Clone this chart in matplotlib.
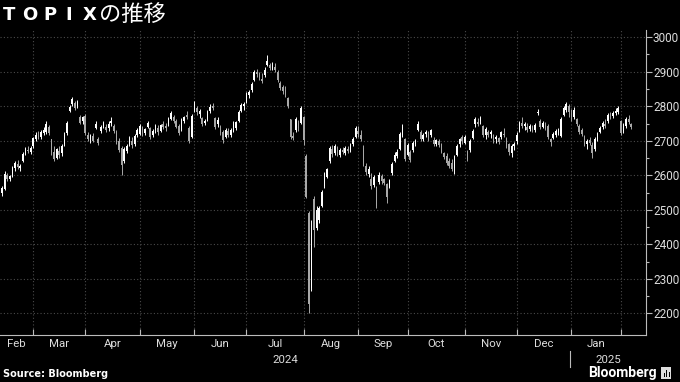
import matplotlib
matplotlib.use("Agg")
import matplotlib.pyplot as plt
import matplotlib.transforms as mtransforms
from matplotlib.patches import Rectangle
import pandas as pd
import numpy as np

# ---------------- data (TOPIX daily OHLC) ----------------
opens = [
    # Feb 2024
    2548, 2560, 2600, 2590, 2600, 2620, 2634, 2622, 2640, 2664, 2672, 2668,
    # Mar
    2684, 2706, 2716, 2712, 2722, 2724, 2740, 2704, 2666, 2650, 2670, 2664, 2690, 2722, 2786, 2806, 2810, 2802, 2770, 2756,
    # Apr
    2772, 2718, 2704, 2714, 2738, 2706, 2728, 2744, 2740, 2736, 2752, 2744, 2724, 2700, 2680, 2640, 2670, 2690, 2700, 2690, 2716,
    # May
    2720, 2736, 2722, 2740, 2736, 2718, 2730, 2738, 2728, 2748, 2742, 2748, 2764, 2770, 2758, 2742, 2732, 2758, 2774, 2738, 2712,
    # Jun
    2786, 2794, 2778, 2766, 2752, 2762, 2786, 2800, 2766, 2748, 2740, 2726, 2712, 2728, 2716, 2730, 2738, 2758, 2786, 2800,
    # Jul
    2812, 2832, 2846, 2876, 2898, 2890, 2880, 2890, 2920, 2920, 2908, 2914, 2898, 2866, 2856, 2848, 2824, 2762, 2714, 2730, 2752, 2752,
    # Aug
    2768, 2656, 2490, 2272, 2530, 2446, 2470, 2512, 2570, 2596, 2640, 2676, 2664, 2680, 2660, 2672, 2664, 2676, 2672, 2690, 2712,
    # Sep
    2728, 2718, 2678, 2628, 2604, 2590, 2572, 2564, 2580, 2598, 2588, 2574, 2566, 2606, 2642, 2656, 2676, 2716, 2704,
    # Oct
    2660, 2668, 2672, 2690, 2732, 2726, 2704, 2720, 2718, 2716, 2702, 2692, 2698, 2690, 2664, 2656, 2640, 2636, 2622, 2660, 2690, 2712,
    # Nov
    2694, 2670, 2672, 2708, 2750, 2754, 2756, 2742, 2716, 2726, 2720, 2716, 2706, 2708, 2712, 2720, 2706, 2690, 2664, 2684,
    # Dec
    2700, 2730, 2752, 2742, 2740, 2734, 2740, 2730, 2780, 2758, 2740, 2746, 2742, 2704, 2708, 2718, 2724, 2714, 2776, 2790, 2800,
    # Jan 2025
    2780, 2770, 2762, 2744, 2730, 2712, 2690, 2702, 2688, 2676, 2706, 2726, 2740, 2748, 2756, 2770, 2772, 2780, 2784,
    # Feb 2025
    2756, 2728, 2742, 2764, 2748,
]
highs = [
    2568, 2612, 2606, 2602, 2628, 2642, 2644, 2632, 2668, 2682, 2684, 2686,
    2712, 2724, 2728, 2730, 2740, 2756, 2746, 2706, 2684, 2680, 2684, 2690, 2724, 2758, 2804, 2828, 2814, 2818, 2774, 2772,
    2778, 2726, 2720, 2722, 2756, 2712, 2746, 2758, 2750, 2756, 2768, 2750, 2730, 2708, 2684, 2682, 2690, 2714, 2712, 2720, 2738,
    2748, 2742, 2738, 2758, 2740, 2734, 2748, 2746, 2750, 2758, 2752, 2768, 2786, 2776, 2762, 2748, 2766, 2772, 2786, 2742, 2778,
    2814, 2800, 2792, 2770, 2762, 2790, 2806, 2810, 2770, 2768, 2746, 2730, 2738, 2736, 2736, 2756, 2758, 2790, 2810, 2812,
    2840, 2846, 2870, 2904, 2908, 2900, 2896, 2914, 2948, 2926, 2928, 2924, 2904, 2872, 2862, 2858, 2828, 2764, 2724, 2770, 2760, 2800,
    2772, 2662, 2496, 2470, 2540, 2510, 2510, 2558, 2610, 2622, 2684, 2688, 2692, 2684, 2680, 2682, 2684, 2686, 2694, 2712, 2744,
    2742, 2732, 2688, 2636, 2626, 2606, 2600, 2568, 2608, 2604, 2592, 2578, 2590, 2638, 2666, 2676, 2726, 2748, 2708,
    2694, 2672, 2700, 2706, 2756, 2732, 2722, 2732, 2728, 2734, 2710, 2706, 2704, 2694, 2668, 2664, 2650, 2648, 2660, 2690, 2708, 2718,
    2716, 2674, 2706, 2734, 2768, 2766, 2772, 2746, 2740, 2732, 2730, 2720, 2716, 2712, 2728, 2736, 2710, 2694, 2690, 2696,
    2724, 2758, 2768, 2754, 2752, 2750, 2746, 2752, 2792, 2762, 2758, 2754, 2748, 2708, 2726, 2734, 2736, 2770, 2800, 2812, 2806,
    2792, 2798, 2766, 2748, 2736, 2716, 2704, 2712, 2696, 2712, 2726, 2742, 2756, 2762, 2780, 2784, 2786, 2794, 2800,
    2760, 2752, 2768, 2774, 2752,
]
lows = [
    2540, 2556, 2582, 2584, 2596, 2612, 2618, 2612, 2638, 2660, 2664, 2662,
    2680, 2700, 2704, 2706, 2718, 2720, 2716, 2660, 2640, 2646, 2650, 2656, 2686, 2718, 2782, 2802, 2788, 2796, 2748, 2750,
    2716, 2700, 2694, 2696, 2734, 2688, 2722, 2736, 2726, 2728, 2742, 2722, 2690, 2668, 2600, 2636, 2664, 2686, 2680, 2684, 2710,
    2716, 2714, 2716, 2736, 2706, 2712, 2722, 2718, 2724, 2734, 2728, 2744, 2760, 2752, 2736, 2716, 2728, 2752, 2764, 2694, 2708,
    2782, 2776, 2766, 2744, 2746, 2758, 2780, 2788, 2734, 2740, 2716, 2694, 2708, 2712, 2712, 2726, 2732, 2754, 2782, 2790,
    2808, 2824, 2842, 2872, 2886, 2876, 2868, 2886, 2916, 2906, 2904, 2898, 2870, 2848, 2836, 2826, 2794, 2704, 2702, 2726, 2728, 2748,
    2688, 2534, 2200, 2264, 2392, 2440, 2462, 2508, 2564, 2592, 2636, 2654, 2660, 2656, 2654, 2662, 2658, 2664, 2668, 2686, 2708,
    2712, 2698, 2628, 2600, 2594, 2560, 2566, 2506, 2574, 2576, 2572, 2520, 2562, 2602, 2638, 2650, 2672, 2710, 2640,
    2656, 2638, 2666, 2684, 2728, 2698, 2698, 2710, 2700, 2710, 2684, 2684, 2682, 2664, 2648, 2630, 2622, 2612, 2604, 2656, 2682, 2692,
    2690, 2642, 2668, 2704, 2740, 2742, 2748, 2712, 2704, 2710, 2708, 2694, 2694, 2690, 2706, 2712, 2678, 2660, 2652, 2672,
    2690, 2726, 2738, 2730, 2726, 2728, 2724, 2726, 2774, 2734, 2736, 2730, 2706, 2684, 2704, 2712, 2716, 2710, 2772, 2784, 2770,
    2758, 2764, 2744, 2720, 2714, 2684, 2676, 2688, 2650, 2670, 2698, 2722, 2734, 2738, 2752, 2762, 2766, 2774, 2778,
    2716, 2722, 2736, 2748, 2734,
]
closes = [
    2562, 2605, 2588, 2598, 2622, 2636, 2624, 2628, 2662, 2676, 2670, 2680,
    2708, 2718, 2710, 2724, 2730, 2748, 2722, 2668, 2648, 2676, 2660, 2684, 2718, 2752, 2798, 2820, 2794, 2812, 2752, 2768,
    2722, 2706, 2716, 2700, 2750, 2694, 2740, 2752, 2730, 2748, 2758, 2728, 2698, 2674, 2630, 2676, 2684, 2708, 2688, 2714, 2732,
    2742, 2720, 2734, 2752, 2712, 2728, 2742, 2724, 2746, 2740, 2736, 2762, 2780, 2756, 2740, 2722, 2760, 2768, 2770, 2700, 2772,
    2806, 2782, 2786, 2750, 2758, 2784, 2798, 2794, 2740, 2760, 2722, 2702, 2730, 2718, 2732, 2750, 2754, 2784, 2804, 2806,
    2834, 2840, 2864, 2898, 2894, 2882, 2874, 2906, 2932, 2912, 2918, 2904, 2876, 2852, 2844, 2832, 2800, 2712, 2708, 2764, 2738, 2794,
    2702, 2538, 2228, 2434, 2440, 2500, 2505, 2552, 2604, 2618, 2678, 2662, 2686, 2662, 2674, 2668, 2678, 2670, 2688, 2706, 2738,
    2720, 2704, 2634, 2610, 2618, 2568, 2594, 2512, 2602, 2584, 2578, 2536, 2584, 2632, 2660, 2668, 2720, 2740, 2646,
    2688, 2644, 2694, 2700, 2750, 2704, 2716, 2726, 2708, 2730, 2690, 2702, 2688, 2668, 2654, 2636, 2628, 2618, 2654, 2684, 2704, 2698,
    2710, 2648, 2700, 2728, 2762, 2748, 2766, 2716, 2734, 2716, 2724, 2698, 2710, 2696, 2724, 2716, 2684, 2668, 2684, 2690,
    2718, 2752, 2744, 2748, 2732, 2744, 2728, 2746, 2784, 2740, 2752, 2734, 2712, 2696, 2720, 2728, 2732, 2764, 2794, 2806, 2784,
    2764, 2790, 2750, 2726, 2720, 2690, 2700, 2694, 2664, 2706, 2720, 2738, 2752, 2744, 2774, 2768, 2780, 2786, 2796,
    2722, 2746, 2762, 2754, 2740,
]
month_labels = ["Feb", "Mar", "Apr", "May", "Jun", "Jul", "Aug", "Sep", "Oct", "Nov", "Dec", "Jan"]
year_labels = ["2024", "2025"]
y_ticks = [2200, 2300, 2400, 2500, 2600, 2700, 2800, 2900, 3000]
jp_holidays = ["2024-02-23", "2024-03-20", "2024-04-29", "2024-05-03", "2024-05-06",
               "2024-07-15", "2024-08-12", "2024-09-16", "2024-09-23", "2024-10-14",
               "2024-11-04", "2024-12-31", "2025-01-01", "2025-01-02", "2025-01-03",
               "2025-01-13"]

# ---------------- trading calendar ----------------
days = pd.bdate_range("2024-02-13", "2025-02-07")
days = days[~days.isin(pd.to_datetime(jp_holidays))]
n = min(len(days), len(opens), len(highs), len(lows), len(closes))
days = days[:n]
o = np.array(opens[:n], float)
h = np.array(highs[:n], float)
l = np.array(lows[:n], float)
c = np.array(closes[:n], float)
x = np.arange(n)

# ---------------- figure ----------------
W, H = 680, 382
fig = plt.figure(figsize=(W / 100, H / 100), dpi=100, facecolor="black")
ax = fig.add_axes([0, 1 - 335 / H, 646 / W, (335 - 30) / H])
ax.set_facecolor("black")

up = c >= o
col = np.where(up, "#ffffff", "#a8a8a8")
hi = np.maximum(h, np.maximum(o, c))
lo = np.minimum(l, np.minimum(o, c))
ax.vlines(x, lo, hi, colors=col, linewidth=0.7, zorder=3)
body_bottom = np.minimum(o, c)
body_h = np.maximum(np.abs(c - o), 1.5)
ax.bar(x, body_h, bottom=body_bottom, width=0.62, color=col, linewidth=0, zorder=4)

x0, x1 = -0.77, 247.7
ax.set_xlim(x0, x1)
ax.set_ylim(2137, 3021)

# month boundaries
months = days.month
bounds = [i for i in range(1, n) if months[i] != months[i - 1]]
grid_kw = dict(color="#4a4a4a", linestyle=(0, (1, 2)), linewidth=0.8, zorder=1)
for b in bounds:
    ax.axvline(b, **grid_kw)
for yv in y_ticks:
    ax.axhline(yv, **grid_kw)

# x ticks: boundaries as tick marks, labels at segment centres
ax.set_xticks(bounds)
ax.set_xticklabels([])
ax.tick_params(axis="x", which="major", direction="in", length=4, color="#bbbbbb", width=0.8)
edges = [x0] + bounds + [x1]
centers, labs = [], []
for k in range(len(edges) - 1):
    if edges[k + 1] - edges[k] >= 10 and k < len(month_labels):
        centers.append((edges[k] + edges[k + 1]) / 2)
        labs.append(month_labels[k])
ax.set_xticks(centers, minor=True)
ax.set_xticklabels(labs, minor=True)
ax.tick_params(axis="x", which="minor", length=0, pad=3, labelsize=8.2, labelcolor="#dddddd")
for t in ax.get_xticklabels(minor=True):
    t.set_fontfamily("Roboto")

# year labels
trans = mtransforms.blended_transform_factory(ax.transData, ax.transAxes)
jan_idx = [b for b in bounds if days[b].month == 1][0]
year_y = -(360 - 335) / (335 - 30)
ax.text((x0 + jan_idx) / 2, year_y, year_labels[0], transform=trans, ha="center", va="center",
        fontsize=8.2, color="#dddddd", family="Roboto")
ax.text((jan_idx + x1) / 2, year_y, year_labels[1], transform=trans, ha="center", va="center",
        fontsize=8.2, color="#dddddd", family="Roboto")
ax.plot([jan_idx - 0.5, jan_idx - 0.5], [-(351 - 335) / 305, -(367 - 335) / 305], transform=trans,
        color="#bbbbbb", linewidth=0.8, clip_on=False)

# y axis on the right
ax.yaxis.tick_right()
ax.set_yticks(y_ticks)
ax.set_yticklabels([str(v) for v in y_ticks])
ax.set_yticks([v + 50 for v in y_ticks[:-1]], minor=True)
ax.tick_params(axis="y", which="major", direction="out", length=4, pad=1, color="#bbbbbb",
               width=0.8, labelsize=8.5, labelcolor="#dddddd")
ax.tick_params(axis="y", which="minor", direction="out", length=2.5, color="#bbbbbb", width=0.8)
for t in ax.get_yticklabels():
    t.set_fontfamily("Roboto")

for side in ["top", "left"]:
    ax.spines[side].set_visible(False)
for side in ["right", "bottom"]:
    ax.spines[side].set_color("#bbbbbb")
    ax.spines[side].set_linewidth(0.8)

# title
title_letters = ["T", "O", "P", "I", "X"]
for ch, cx in zip(title_letters, [9, 30, 50, 69, 89.5]):
    fig.text(cx / W, 1 - 20 / H, ch, ha="center", va="baseline", fontsize=13,
             fontweight="bold", color="white", family="DejaVu Sans")
fig.text(99 / W, 1 - 21 / H, "の推移", ha="left", va="baseline", fontsize=16,
         color="white", family=["Noto Sans CJK JP", "DejaVu Sans"])

# footer
fig.text(3 / W, 1 - 374 / H, "Source: Bloomberg", ha="left", va="center", fontsize=7,
         fontweight="bold", color="white", family="DejaVu Sans")
fig.text(657 / W, 1 - 373 / H, "Bloomberg", ha="right", va="center", fontsize=10,
         fontweight="bold", color="white", family="Roboto")
fig.patches.append(Rectangle((661 / W, 1 - 379 / H), 10 / W, 12 / H, transform=fig.transFigure,
                             facecolor="#dddddd", edgecolor="none"))
for bx, bh in [(663.5, 4), (666, 7), (668.5, 5)]:
    fig.patches.append(Rectangle((bx / W, 1 - 377 / H), 1.2 / W, bh / H, transform=fig.transFigure,
                                 facecolor="black", edgecolor="none"))

fig.savefig("out.png", dpi=100, facecolor="black")
